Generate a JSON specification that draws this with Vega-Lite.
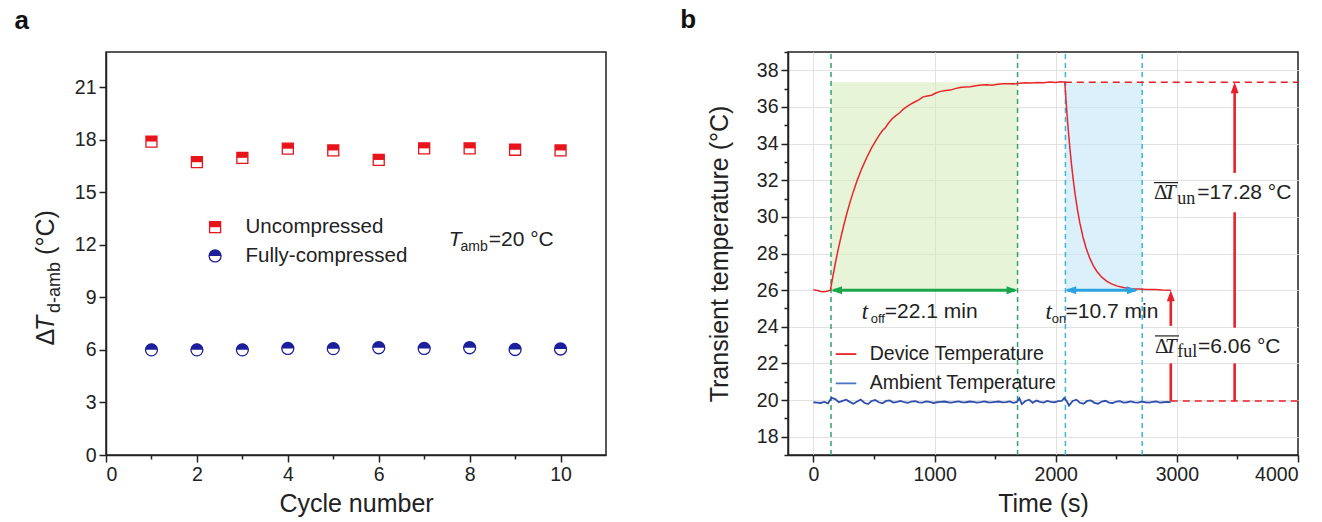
{
  "$schema": "https://vega.github.io/schema/vega-lite/v6.json",
  "background": "white",
  "padding": {"left": 13, "top": 6, "right": 10, "bottom": 0},
  "config": {
    "font": "Liberation Sans",
    "view": {"stroke": "#222", "strokeWidth": 1.5},
    "axis": {"domainColor": "#222", "domainWidth": 1.5, "tickColor": "#222", "tickWidth": 1.5, "labelColor": "#222", "labelFontSize": 19.5, "labelFont": "Liberation Sans", "titleFont": "Liberation Sans", "titleFontSize": 25, "titleFontWeight": "normal", "titleColor": "#222", "grid": false},
    "concat": {"spacing": 72},
    "title": {"fontSize": 26, "fontWeight": "bold", "anchor": "start", "color": "#111", "font": "Liberation Sans"}
  },
  "datasets": {
    "a_points": [
      {"cycle": 1, "value": 17.89, "sample": "Uncompressed"},
      {"cycle": 2, "value": 16.71, "sample": "Uncompressed"},
      {"cycle": 3, "value": 16.96, "sample": "Uncompressed"},
      {"cycle": 4, "value": 17.48, "sample": "Uncompressed"},
      {"cycle": 5, "value": 17.38, "sample": "Uncompressed"},
      {"cycle": 6, "value": 16.84, "sample": "Uncompressed"},
      {"cycle": 7, "value": 17.5, "sample": "Uncompressed"},
      {"cycle": 8, "value": 17.5, "sample": "Uncompressed"},
      {"cycle": 9, "value": 17.42, "sample": "Uncompressed"},
      {"cycle": 10, "value": 17.38, "sample": "Uncompressed"},
      {"cycle": 1, "value": 6.0, "sample": "Fully-compressed"},
      {"cycle": 2, "value": 6.0, "sample": "Fully-compressed"},
      {"cycle": 3, "value": 6.0, "sample": "Fully-compressed"},
      {"cycle": 4, "value": 6.08, "sample": "Fully-compressed"},
      {"cycle": 5, "value": 6.07, "sample": "Fully-compressed"},
      {"cycle": 6, "value": 6.12, "sample": "Fully-compressed"},
      {"cycle": 7, "value": 6.08, "sample": "Fully-compressed"},
      {"cycle": 8, "value": 6.12, "sample": "Fully-compressed"},
      {"cycle": 9, "value": 6.02, "sample": "Fully-compressed"},
      {"cycle": 10, "value": 6.05, "sample": "Fully-compressed"}
    ],
    "a_legend": [
      {"cycle": 2.4, "value": 13.0, "sample": "Uncompressed"},
      {"cycle": 2.4, "value": 11.36, "sample": "Fully-compressed"}
    ],
    "a_text": [
      {"cycle": 3.07, "value": 13.0, "label": "Uncompressed", "style": "leg"},
      {"cycle": 3.07, "value": 11.36, "label": "Fully-compressed", "style": "leg"},
      {"cycle": 7.54, "value": 12.27, "label": "T", "style": "ital"},
      {"cycle": 7.8, "value": 11.85, "label": "amb", "style": "sub"},
      {"cycle": 8.42, "value": 12.27, "label": "=20 °C", "style": "eq"}
    ],
    "a_ytitle": [
      {"cycle": -1.33, "value": 6.25, "label": "Δ", "style": "main"},
      {"cycle": -1.33, "value": 7.08, "label": "T", "style": "ital"},
      {"cycle": -1.12, "value": 8.1, "label": "d-amb", "style": "sub"},
      {"cycle": -1.33, "value": 11.42, "label": "(°C)", "style": "main"}
    ],
    "b_device": [
      {"t": 0, "temp": 26.02}, {"t": 20, "temp": 26.0}, {"t": 40, "temp": 25.97}, {"t": 60, "temp": 25.93}, {"t": 80, "temp": 25.91}, {"t": 100, "temp": 25.92}, {"t": 120, "temp": 25.95}, {"t": 140, "temp": 26.0},
      {"t": 160, "temp": 26.74}, {"t": 180, "temp": 27.44}, {"t": 200, "temp": 28.09}, {"t": 225, "temp": 28.84}, {"t": 250, "temp": 29.53}, {"t": 275, "temp": 30.17}, {"t": 300, "temp": 30.75}, {"t": 330, "temp": 31.39}, {"t": 360, "temp": 31.97}, {"t": 400, "temp": 32.65}, {"t": 440, "temp": 33.24}, {"t": 480, "temp": 33.77}, {"t": 520, "temp": 34.22}, {"t": 545, "temp": 34.48}, {"t": 570, "temp": 34.71}, {"t": 595, "temp": 34.88}, {"t": 620, "temp": 35.12}, {"t": 650, "temp": 35.36}, {"t": 680, "temp": 35.53}, {"t": 710, "temp": 35.67}, {"t": 740, "temp": 35.87}, {"t": 770, "temp": 36.02}, {"t": 800, "temp": 36.14}, {"t": 835, "temp": 36.27}, {"t": 870, "temp": 36.39}, {"t": 905, "temp": 36.55}, {"t": 940, "temp": 36.6}, {"t": 975, "temp": 36.64}, {"t": 1010, "temp": 36.76}, {"t": 1050, "temp": 36.85}, {"t": 1090, "temp": 36.9}, {"t": 1130, "temp": 36.92}, {"t": 1170, "temp": 37.0}, {"t": 1210, "temp": 37.06}, {"t": 1250, "temp": 37.09}, {"t": 1295, "temp": 37.1}, {"t": 1340, "temp": 37.16}, {"t": 1385, "temp": 37.2}, {"t": 1430, "temp": 37.21}, {"t": 1475, "temp": 37.19}, {"t": 1520, "temp": 37.24}, {"t": 1565, "temp": 37.27}, {"t": 1610, "temp": 37.27}, {"t": 1655, "temp": 37.26}, {"t": 1700, "temp": 37.29}, {"t": 1750, "temp": 37.32}, {"t": 1800, "temp": 37.31}, {"t": 1850, "temp": 37.34}, {"t": 1900, "temp": 37.32}, {"t": 1950, "temp": 37.36}, {"t": 2000, "temp": 37.33}, {"t": 2040, "temp": 37.37}, {"t": 2075, "temp": 37.35},
      {"t": 2082, "temp": 36.65}, {"t": 2090, "temp": 35.9}, {"t": 2100, "temp": 35.04}, {"t": 2115, "temp": 33.89}, {"t": 2130, "temp": 32.88}, {"t": 2145, "temp": 32.01}, {"t": 2160, "temp": 31.24}, {"t": 2180, "temp": 30.37}, {"t": 2200, "temp": 29.64}, {"t": 2225, "temp": 28.9}, {"t": 2250, "temp": 28.31}, {"t": 2280, "temp": 27.76}, {"t": 2310, "temp": 27.34}, {"t": 2340, "temp": 27.02}, {"t": 2380, "temp": 26.71}, {"t": 2420, "temp": 26.49}, {"t": 2460, "temp": 26.34}, {"t": 2510, "temp": 26.22}, {"t": 2560, "temp": 26.14}, {"t": 2620, "temp": 26.08}, {"t": 2680, "temp": 26.06}, {"t": 2750, "temp": 26.03}, {"t": 2820, "temp": 26.03}, {"t": 2880, "temp": 26.01}, {"t": 2950, "temp": 26.0}
    ],
    "b_ambient": [
      {"t": 0, "temp": 19.88}, {"t": 30, "temp": 19.86}, {"t": 60, "temp": 19.84}, {"t": 90, "temp": 19.9}, {"t": 120, "temp": 19.82}, {"t": 150, "temp": 20.12}, {"t": 180, "temp": 20.05}, {"t": 210, "temp": 19.88}, {"t": 240, "temp": 19.95}, {"t": 270, "temp": 20.02}, {"t": 300, "temp": 19.9}, {"t": 330, "temp": 19.8}, {"t": 360, "temp": 19.92}, {"t": 390, "temp": 20.02}, {"t": 420, "temp": 19.85}, {"t": 450, "temp": 19.78}, {"t": 480, "temp": 19.95}, {"t": 510, "temp": 20.0}, {"t": 540, "temp": 19.88}, {"t": 570, "temp": 19.82}, {"t": 600, "temp": 19.95}, {"t": 630, "temp": 19.98}, {"t": 660, "temp": 19.86}, {"t": 690, "temp": 19.9}, {"t": 720, "temp": 19.95}, {"t": 750, "temp": 19.88}, {"t": 780, "temp": 19.85}, {"t": 810, "temp": 19.92}, {"t": 840, "temp": 19.94}, {"t": 870, "temp": 19.87}, {"t": 900, "temp": 19.86}, {"t": 930, "temp": 19.92}, {"t": 960, "temp": 19.9}, {"t": 990, "temp": 19.84}, {"t": 1020, "temp": 19.88}, {"t": 1050, "temp": 19.9}, {"t": 1080, "temp": 19.92}, {"t": 1110, "temp": 19.88}, {"t": 1140, "temp": 19.86}, {"t": 1170, "temp": 19.9}, {"t": 1200, "temp": 19.93}, {"t": 1230, "temp": 19.87}, {"t": 1260, "temp": 19.88}, {"t": 1290, "temp": 19.92}, {"t": 1320, "temp": 19.9}, {"t": 1350, "temp": 19.86}, {"t": 1380, "temp": 19.89}, {"t": 1410, "temp": 19.93}, {"t": 1440, "temp": 19.88}, {"t": 1470, "temp": 19.87}, {"t": 1500, "temp": 19.9}, {"t": 1530, "temp": 19.92}, {"t": 1560, "temp": 19.87}, {"t": 1590, "temp": 19.89}, {"t": 1620, "temp": 19.93}, {"t": 1650, "temp": 19.85}, {"t": 1680, "temp": 19.9}, {"t": 1700, "temp": 20.1}, {"t": 1720, "temp": 19.78}, {"t": 1750, "temp": 19.95}, {"t": 1780, "temp": 20.02}, {"t": 1810, "temp": 19.85}, {"t": 1840, "temp": 19.97}, {"t": 1870, "temp": 19.9}, {"t": 1900, "temp": 19.86}, {"t": 1930, "temp": 19.95}, {"t": 1960, "temp": 19.9}, {"t": 1990, "temp": 19.88}, {"t": 2020, "temp": 19.94}, {"t": 2050, "temp": 19.95}, {"t": 2070, "temp": 20.12}, {"t": 2090, "temp": 19.95}, {"t": 2110, "temp": 19.7}, {"t": 2140, "temp": 19.95}, {"t": 2170, "temp": 20.02}, {"t": 2200, "temp": 19.85}, {"t": 2230, "temp": 19.8}, {"t": 2260, "temp": 19.95}, {"t": 2290, "temp": 19.98}, {"t": 2320, "temp": 19.85}, {"t": 2350, "temp": 19.8}, {"t": 2380, "temp": 19.92}, {"t": 2410, "temp": 19.96}, {"t": 2440, "temp": 19.86}, {"t": 2470, "temp": 19.84}, {"t": 2500, "temp": 19.92}, {"t": 2530, "temp": 19.94}, {"t": 2560, "temp": 19.86}, {"t": 2590, "temp": 19.88}, {"t": 2620, "temp": 19.93}, {"t": 2650, "temp": 19.87}, {"t": 2680, "temp": 19.86}, {"t": 2710, "temp": 19.91}, {"t": 2740, "temp": 19.88}, {"t": 2770, "temp": 19.86}, {"t": 2800, "temp": 19.9}, {"t": 2830, "temp": 19.92}, {"t": 2860, "temp": 19.86}, {"t": 2890, "temp": 19.88}, {"t": 2920, "temp": 19.9}, {"t": 2950, "temp": 19.89}
    ],
    "b_shades": [
      {"t": 145, "t2": 1685, "temp": 26.0, "temp2": 37.35, "zone": "off"},
      {"t": 2080, "t2": 2714, "temp": 26.0, "temp2": 37.35, "zone": "on"}
    ],
    "b_vlines": [
      {"t": 145, "temp": 17, "temp2": 39, "grp": "green"},
      {"t": 1685, "temp": 17, "temp2": 39, "grp": "green"},
      {"t": 2080, "temp": 17, "temp2": 39, "grp": "blue"},
      {"t": 2714, "temp": 17, "temp2": 39, "grp": "blue"}
    ],
    "b_hlines": [
      {"t": 2075, "t2": 4000, "temp": 37.35},
      {"t": 2950, "t2": 4000, "temp": 19.95}
    ],
    "b_varrows": [
      {"t": 2950, "temp": 19.95, "temp2": 22.0},
      {"t": 2950, "temp": 24.05, "temp2": 25.6},
      {"t": 3477, "temp": 19.95, "temp2": 22.0},
      {"t": 3477, "temp": 23.95, "temp2": 30.25},
      {"t": 3477, "temp": 32.4, "temp2": 37.0}
    ],
    "b_harrows": [
      {"t": 165, "t2": 1665, "temp": 26.0, "grp": "green"},
      {"t": 2095, "t2": 2660, "temp": 26.0, "grp": "blue"}
    ],
    "b_heads": [
      {"t": 2950, "temp": 26.0, "dir": "up", "grp": "red"},
      {"t": 3477, "temp": 37.35, "dir": "up", "grp": "red"},
      {"t": 145, "temp": 26.0, "dir": "left", "grp": "green"},
      {"t": 1685, "temp": 26.0, "dir": "right", "grp": "green"},
      {"t": 2078, "temp": 26.0, "dir": "left", "grp": "blue"},
      {"t": 2678, "temp": 26.0, "dir": "right", "grp": "blue"}
    ],
    "b_text": [
      {"t": 399, "temp": 24.81, "label": "t", "style": "it"},
      {"t": 473, "temp": 24.45, "label": "off", "style": "sub"},
      {"t": 589, "temp": 24.81, "label": "=22.1 min", "style": "eq"},
      {"t": 1916, "temp": 24.81, "label": "t", "style": "it"},
      {"t": 1968, "temp": 24.45, "label": "on", "style": "sub"},
      {"t": 2081, "temp": 24.81, "label": "=10.7 min", "style": "eq"},
      {"t": 2811, "temp": 31.29, "label": "Δ", "style": "delta"},
      {"t": 2893, "temp": 31.29, "label": "T", "style": "T"},
      {"t": 3003, "temp": 30.98, "label": "un", "style": "ssub"},
      {"t": 3168, "temp": 31.29, "label": "=17.28 °C", "style": "eq"},
      {"t": 2819, "temp": 22.91, "label": "Δ", "style": "delta"},
      {"t": 2902, "temp": 22.91, "label": "T", "style": "T"},
      {"t": 3003, "temp": 22.6, "label": "ful", "style": "ssub"},
      {"t": 3174, "temp": 22.91, "label": "=6.06 °C", "style": "eq"}
    ],
    "b_overlines": [
      {"t": 2811, "t2": 3010, "temp": 31.87},
      {"t": 2819, "t2": 3018, "temp": 23.5}
    ],
    "b_legend_lines": [
      {"t": 184, "t2": 354, "temp": 22.51, "series": "Device Temperature"},
      {"t": 184, "t2": 354, "temp": 20.91, "series": "Ambient Temperature"}
    ],
    "b_legend_text": [
      {"t": 465, "temp": 22.51, "label": "Device Temperature"},
      {"t": 465, "temp": 20.91, "label": "Ambient Temperature"}
    ]
  },
  "hconcat": [
    {
      "width": 500,
      "height": 403,
      "title": {"text": "a", "frame": "bounds", "dx": -19, "offset": 18},
      "encoding": {
        "x": {"field": "cycle", "type": "quantitative", "scale": {"domain": [0, 11], "nice": false, "zero": false},
          "axis": {"values": [0, 1, 2, 3, 4, 5, 6, 7, 8, 9, 10], "labelExpr": "datum.value % 2 === 0 ? datum.label : ''", "tickSize": {"condition": {"test": "datum.value % 2 === 0", "value": 7}, "value": 4}, "labelPadding": 3, "title": "Cycle number", "titlePadding": 8}},
        "y": {"field": "value", "type": "quantitative", "scale": {"domain": [0, 23], "nice": false, "zero": false},
          "axis": {"values": [0, 3, 6, 9, 12, 15, 18, 21], "tickSize": 7, "labelPadding": 3, "title": null}}
      },
      "resolve": {"scale": {"shape": "independent", "stroke": "independent", "fill": "independent", "size": "independent"}},
      "layer": [
        {
          "data": {"name": "a_points"},
          "mark": {"type": "point", "filled": true, "fill": "white", "strokeWidth": 1.3, "opacity": 1},
          "encoding": {
            "shape": {"field": "sample", "type": "nominal", "scale": {"domain": ["Uncompressed", "Fully-compressed"], "range": ["M-1,-1H1V1H-1Z", "M-1,0A1,1,0,1,1,1,0A1,1,0,1,1,-1,0Z"]}, "legend": null},
            "stroke": {"field": "sample", "type": "nominal", "scale": {"domain": ["Uncompressed", "Fully-compressed"], "range": ["#e8141b", "#1c1f9c"]}, "legend": null},
            "size": {"field": "sample", "type": "ordinal", "scale": {"domain": ["Uncompressed", "Fully-compressed"], "range": [121, 144]}, "legend": null}
          }
        },
        {
          "data": {"name": "a_points"},
          "mark": {"type": "point", "filled": true, "strokeWidth": 0, "opacity": 1},
          "encoding": {
            "shape": {"field": "sample", "type": "nominal", "scale": {"domain": ["Uncompressed", "Fully-compressed"], "range": ["M-1,-1H1V0H-1Z", "M-1,0A1,1,0,0,1,1,0Z"]}, "legend": null},
            "fill": {"field": "sample", "type": "nominal", "scale": {"domain": ["Uncompressed", "Fully-compressed"], "range": ["#e8141b", "#1c1f9c"]}, "legend": null},
            "size": {"field": "sample", "type": "ordinal", "scale": {"domain": ["Uncompressed", "Fully-compressed"], "range": [121, 144]}, "legend": null}
          }
        },
        {
          "data": {"name": "a_legend"},
          "mark": {"type": "point", "filled": true, "fill": "white", "strokeWidth": 1.3, "opacity": 1},
          "encoding": {
            "shape": {"field": "sample", "type": "nominal", "scale": {"domain": ["Uncompressed", "Fully-compressed"], "range": ["M-1,-1H1V1H-1Z", "M-1,0A1,1,0,1,1,1,0A1,1,0,1,1,-1,0Z"]}, "legend": null},
            "stroke": {"field": "sample", "type": "nominal", "scale": {"domain": ["Uncompressed", "Fully-compressed"], "range": ["#e8141b", "#1c1f9c"]}, "legend": null},
            "size": {"field": "sample", "type": "ordinal", "scale": {"domain": ["Uncompressed", "Fully-compressed"], "range": [121, 144]}, "legend": null}
          }
        },
        {
          "data": {"name": "a_legend"},
          "mark": {"type": "point", "filled": true, "strokeWidth": 0, "opacity": 1},
          "encoding": {
            "shape": {"field": "sample", "type": "nominal", "scale": {"domain": ["Uncompressed", "Fully-compressed"], "range": ["M-1,-1H1V0H-1Z", "M-1,0A1,1,0,0,1,1,0Z"]}, "legend": null},
            "fill": {"field": "sample", "type": "nominal", "scale": {"domain": ["Uncompressed", "Fully-compressed"], "range": ["#e8141b", "#1c1f9c"]}, "legend": null},
            "size": {"field": "sample", "type": "ordinal", "scale": {"domain": ["Uncompressed", "Fully-compressed"], "range": [121, 144]}, "legend": null}
          }
        },
        {
          "data": {"name": "a_text"},
          "transform": [{"filter": "datum.style === 'leg'"}],
          "mark": {"type": "text", "align": "left", "baseline": "middle", "fontSize": 20.5, "color": "#222"},
          "encoding": {"text": {"field": "label"}}
        },
        {
          "data": {"name": "a_text"},
          "transform": [{"filter": "datum.style === 'ital'"}],
          "mark": {"type": "text", "align": "left", "baseline": "middle", "fontSize": 21, "fontStyle": "italic", "color": "#222"},
          "encoding": {"text": {"field": "label"}}
        },
        {
          "data": {"name": "a_text"},
          "transform": [{"filter": "datum.style === 'sub'"}],
          "mark": {"type": "text", "align": "left", "baseline": "middle", "fontSize": 14, "color": "#222"},
          "encoding": {"text": {"field": "label"}}
        },
        {
          "data": {"name": "a_text"},
          "transform": [{"filter": "datum.style === 'eq'"}],
          "mark": {"type": "text", "align": "left", "baseline": "middle", "fontSize": 21, "color": "#222"},
          "encoding": {"text": {"field": "label"}}
        },
        {
          "data": {"name": "a_ytitle"},
          "transform": [{"filter": "datum.style === 'main'"}],
          "mark": {"type": "text", "align": "left", "baseline": "middle", "angle": 270, "fontSize": 25, "color": "#222"},
          "encoding": {"text": {"field": "label"}}
        },
        {
          "data": {"name": "a_ytitle"},
          "transform": [{"filter": "datum.style === 'ital'"}],
          "mark": {"type": "text", "align": "left", "baseline": "middle", "angle": 270, "fontSize": 25, "fontStyle": "italic", "color": "#222"},
          "encoding": {"text": {"field": "label"}}
        },
        {
          "data": {"name": "a_ytitle"},
          "transform": [{"filter": "datum.style === 'sub'"}],
          "mark": {"type": "text", "align": "left", "baseline": "middle", "angle": 270, "fontSize": 18, "color": "#222"},
          "encoding": {"text": {"field": "label"}}
        }
      ]
    },
    {
      "width": 510,
      "height": 403,
      "title": {"text": "b", "frame": "bounds", "dx": -27, "offset": 18},
      "encoding": {
        "x": {"field": "t", "type": "quantitative", "scale": {"domain": [-210, 4000], "nice": false, "zero": false},
          "axis": {"values": [0, 500, 1000, 1500, 2000, 2500, 3000, 3500, 4000], "format": "d", "labelExpr": "datum.value % 1000 === 0 ? datum.label : ''", "tickSize": {"condition": {"test": "datum.value % 1000 === 0", "value": 7}, "value": 4}, "labelPadding": 3, "grid": true, "gridColor": "#e2e2e2", "gridWidth": 1, "gridOpacity": {"condition": {"test": "datum.value % 1000 === 0 && datum.value < 4000", "value": 1}, "value": 0}, "title": "Time (s)", "titlePadding": 8}},
        "y": {"field": "temp", "type": "quantitative", "scale": {"domain": [17, 39], "nice": false, "zero": false},
          "axis": {"values": [17, 18, 19, 20, 21, 22, 23, 24, 25, 26, 27, 28, 29, 30, 31, 32, 33, 34, 35, 36, 37, 38, 39], "labelExpr": "datum.value % 2 === 0 ? datum.label : ''", "tickSize": {"condition": {"test": "datum.value % 2 === 0", "value": 7}, "value": 4}, "labelPadding": 3, "grid": true, "gridColor": "#e2e2e2", "gridWidth": 1, "gridOpacity": {"condition": {"test": "datum.value % 2 === 0", "value": 1}, "value": 0}, "title": "Transient temperature (°C)", "titlePadding": 24}}
      },
      "layer": [
        {
          "data": {"name": "b_shades"},
          "mark": {"type": "rect", "opacity": 0.55},
          "encoding": {
            "x2": {"field": "t2"},
            "y2": {"field": "temp2"},
            "color": {"field": "zone", "type": "nominal", "scale": {"domain": ["off", "on"], "range": ["#d3ebb8", "#bfe4f8"]}, "legend": null}
          }
        },
        {
          "data": {"name": "b_vlines"},
          "transform": [{"filter": "datum.grp === 'green'"}],
          "mark": {"type": "rule", "color": "#2fa56a", "strokeWidth": 1.5, "strokeDash": [5, 4]},
          "encoding": {"y2": {"field": "temp2"}}
        },
        {
          "data": {"name": "b_vlines"},
          "transform": [{"filter": "datum.grp === 'blue'"}],
          "mark": {"type": "rule", "color": "#38b5e3", "strokeWidth": 1.5, "strokeDash": [5, 4]},
          "encoding": {"y2": {"field": "temp2"}}
        },
        {
          "data": {"name": "b_hlines"},
          "mark": {"type": "rule", "color": "#e8202a", "strokeWidth": 1.5, "strokeDash": [7, 5]},
          "encoding": {"x2": {"field": "t2"}}
        },
        {
          "data": {"name": "b_ambient"},
          "mark": {"type": "line", "color": "#2e4fae", "strokeWidth": 1.8},
          "encoding": {}
        },
        {
          "data": {"name": "b_device"},
          "mark": {"type": "line", "color": "#e8262c", "strokeWidth": 1.5},
          "encoding": {}
        },
        {
          "data": {"name": "b_varrows"},
          "mark": {"type": "rule", "color": "#e8202a", "strokeWidth": 2.6},
          "encoding": {"y2": {"field": "temp2"}}
        },
        {
          "data": {"name": "b_harrows"},
          "transform": [{"filter": "datum.grp === 'green'"}],
          "mark": {"type": "rule", "color": "#1aa64a", "strokeWidth": 3},
          "encoding": {"x2": {"field": "t2"}}
        },
        {
          "data": {"name": "b_harrows"},
          "transform": [{"filter": "datum.grp === 'blue'"}],
          "mark": {"type": "rule", "color": "#2aa3e0", "strokeWidth": 3},
          "encoding": {"x2": {"field": "t2"}}
        },
        {
          "data": {"name": "b_heads"},
          "transform": [{"filter": "datum.grp === 'red'"}],
          "mark": {"type": "point", "filled": true, "color": "#e8202a", "strokeWidth": 0, "opacity": 1, "size": 100},
          "encoding": {"shape": {"field": "dir", "type": "nominal", "scale": {"domain": ["up", "left", "right"], "range": ["M0,0L-0.8,2.2L0.8,2.2Z", "M0,0L2.2,-0.8L2.2,0.8Z", "M0,0L-2.2,-0.8L-2.2,0.8Z"]}, "legend": null}}
        },
        {
          "data": {"name": "b_heads"},
          "transform": [{"filter": "datum.grp === 'green'"}],
          "mark": {"type": "point", "filled": true, "color": "#1aa64a", "strokeWidth": 0, "opacity": 1, "size": 100},
          "encoding": {"shape": {"field": "dir", "type": "nominal", "scale": {"domain": ["up", "left", "right"], "range": ["M0,0L-0.8,2.2L0.8,2.2Z", "M0,0L2.2,-0.8L2.2,0.8Z", "M0,0L-2.2,-0.8L-2.2,0.8Z"]}, "legend": null}}
        },
        {
          "data": {"name": "b_heads"},
          "transform": [{"filter": "datum.grp === 'blue'"}],
          "mark": {"type": "point", "filled": true, "color": "#2aa3e0", "strokeWidth": 0, "opacity": 1, "size": 100},
          "encoding": {"shape": {"field": "dir", "type": "nominal", "scale": {"domain": ["up", "left", "right"], "range": ["M0,0L-0.8,2.2L0.8,2.2Z", "M0,0L2.2,-0.8L2.2,0.8Z", "M0,0L-2.2,-0.8L-2.2,0.8Z"]}, "legend": null}}
        },
        {
          "data": {"name": "b_text"},
          "transform": [{"filter": "datum.style === 'it'"}],
          "mark": {"type": "text", "align": "left", "baseline": "middle", "font": "Liberation Serif", "fontStyle": "italic", "fontSize": 23, "color": "#222"},
          "encoding": {"text": {"field": "label"}}
        },
        {
          "data": {"name": "b_text"},
          "transform": [{"filter": "datum.style === 'sub'"}],
          "mark": {"type": "text", "align": "left", "baseline": "middle", "fontSize": 13, "color": "#222"},
          "encoding": {"text": {"field": "label"}}
        },
        {
          "data": {"name": "b_text"},
          "transform": [{"filter": "datum.style === 'eq'"}],
          "mark": {"type": "text", "align": "left", "baseline": "middle", "fontSize": 21, "color": "#222"},
          "encoding": {"text": {"field": "label"}}
        },
        {
          "data": {"name": "b_text"},
          "transform": [{"filter": "datum.style === 'delta'"}],
          "mark": {"type": "text", "align": "left", "baseline": "middle", "font": "Liberation Serif", "fontSize": 21, "color": "#222"},
          "encoding": {"text": {"field": "label"}}
        },
        {
          "data": {"name": "b_text"},
          "transform": [{"filter": "datum.style === 'T'"}],
          "mark": {"type": "text", "align": "left", "baseline": "middle", "font": "Liberation Serif", "fontStyle": "italic", "fontSize": 21, "color": "#222"},
          "encoding": {"text": {"field": "label"}}
        },
        {
          "data": {"name": "b_text"},
          "transform": [{"filter": "datum.style === 'ssub'"}],
          "mark": {"type": "text", "align": "left", "baseline": "middle", "font": "Liberation Serif", "fontSize": 18, "color": "#222"},
          "encoding": {"text": {"field": "label"}}
        },
        {
          "data": {"name": "b_overlines"},
          "mark": {"type": "rule", "color": "#222", "strokeWidth": 1.2},
          "encoding": {"x2": {"field": "t2"}}
        },
        {
          "data": {"name": "b_legend_lines"},
          "transform": [{"filter": "datum.series === 'Device Temperature'"}],
          "mark": {"type": "rule", "color": "#e8262c", "strokeWidth": 1.8},
          "encoding": {"x2": {"field": "t2"}}
        },
        {
          "data": {"name": "b_legend_lines"},
          "transform": [{"filter": "datum.series === 'Ambient Temperature'"}],
          "mark": {"type": "rule", "color": "#4a78c2", "strokeWidth": 1.8},
          "encoding": {"x2": {"field": "t2"}}
        },
        {
          "data": {"name": "b_legend_text"},
          "mark": {"type": "text", "align": "left", "baseline": "middle", "fontSize": 19.5, "color": "#222"},
          "encoding": {"text": {"field": "label"}}
        }
      ]
    }
  ]
}
